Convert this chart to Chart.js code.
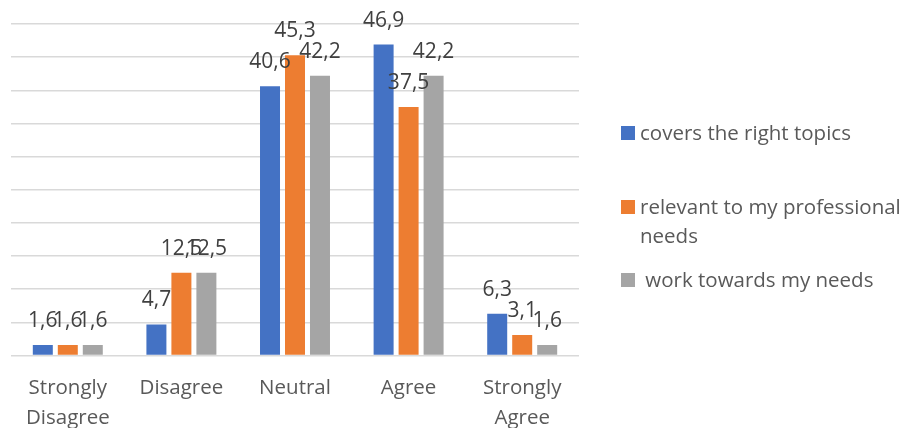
<!DOCTYPE html>
<html>
<head>
<meta charset="utf-8">
<script src="https://cdn.jsdelivr.net/npm/chart.js@4/dist/chart.umd.min.js"></script>
<style>
    html, body { margin: 0; padding: 0; background: #fff; }
    .wrap { position: relative; width: 909px; height: 428px; }
    #legend {
        position: absolute; left: 621px; top: 0; width: 288px;
        font-family: "Open Sans", sans-serif; font-size: 20.5px; color: #595959;
    }
    .item { position: absolute; left: 0; display: flex; align-items: flex-start; line-height: 29px; }
    .box { width: 14px; height: 14px; margin-top: 8px; margin-right: 5px; flex: none; }
    .txt { white-space: pre-wrap; width: 280px; }
</style>
</head>
<body>
<div class="wrap">
    <canvas id="chart" width="909" height="428"></canvas>
    <div id="legend"></div>
</div>
<script>
const categories = [['Strongly', 'Disagree'], 'Disagree', 'Neutral', 'Agree', ['Strongly', 'Agree']];
const seriesNames = ['covers the right topics', 'relevant to my professional needs', ' work towards my needs'];
const topicsValues = [1.6, 4.7, 40.6, 46.9, 6.3];
const relevantValues = [1.6, 12.5, 45.3, 37.5, 3.1];
const needsValues = [1.6, 12.5, 42.2, 42.2, 1.6];
const colors = ['#4472C4', '#ED7D31', '#A5A5A5'];
const legendTops = [118, 192, 265];

// labels above each bar, decimal comma like the original
const barLabels = {
    id: 'barLabels',
    afterDatasetsDraw(chart) {
        const ctx = chart.ctx;
        ctx.save();
        ctx.font = '21px "Open Sans", sans-serif';
        ctx.fillStyle = '#404040';
        ctx.textAlign = 'center';
        ctx.textBaseline = 'middle';
        chart.data.datasets.forEach((ds, i) => {
            chart.getDatasetMeta(i).data.forEach((bar, j) => {
                ctx.fillText(ds.data[j].toFixed(1).replace('.', ','), bar.x, bar.y - 24);
            });
        });
        ctx.restore();
    }
};

const seriesData = [topicsValues, relevantValues, needsValues];

const chart = new Chart(document.getElementById('chart'), {
    type: 'bar',
    data: {
        labels: categories,
        datasets: seriesNames.map((name, i) => ({
            label: name,
            data: seriesData[i],
            backgroundColor: colors[i],
            barPercentage: 0.8,
            categoryPercentage: 0.66
        }))
    },
    options: {
        responsive: false,
        animation: false,
        layout: { padding: { left: 11, right: 330, top: 24, bottom: -15 } },
        plugins: {
            legend: { display: false },
            tooltip: { enabled: false }
        },
        scales: {
            x: {
                grid: { display: false },
                border: { display: false },
                ticks: {
                    color: '#595959',
                    font: { family: '"Open Sans", sans-serif', size: 20.5, lineHeight: 1.45 },
                    padding: 10,
                    maxRotation: 0
                }
            },
            y: {
                min: 0,
                max: 50,
                ticks: { display: false, stepSize: 5 },
                grid: { color: '#d9d9d9', lineWidth: 1.5, drawTicks: false },
                border: { display: false }
            }
        }
    },
    plugins: [barLabels]
});

// html legend so the long name can wrap
const legend = document.getElementById('legend');
chart.data.datasets.forEach((ds, i) => {
    const item = document.createElement('div');
    item.className = 'item';
    item.style.top = legendTops[i] + 'px';
    item.innerHTML = '<div class="box" style="background:' + ds.backgroundColor + '"></div><div class="txt"></div>';
    item.querySelector('.txt').textContent = ds.label;
    legend.appendChild(item);
});
</script>
</body>
</html>
